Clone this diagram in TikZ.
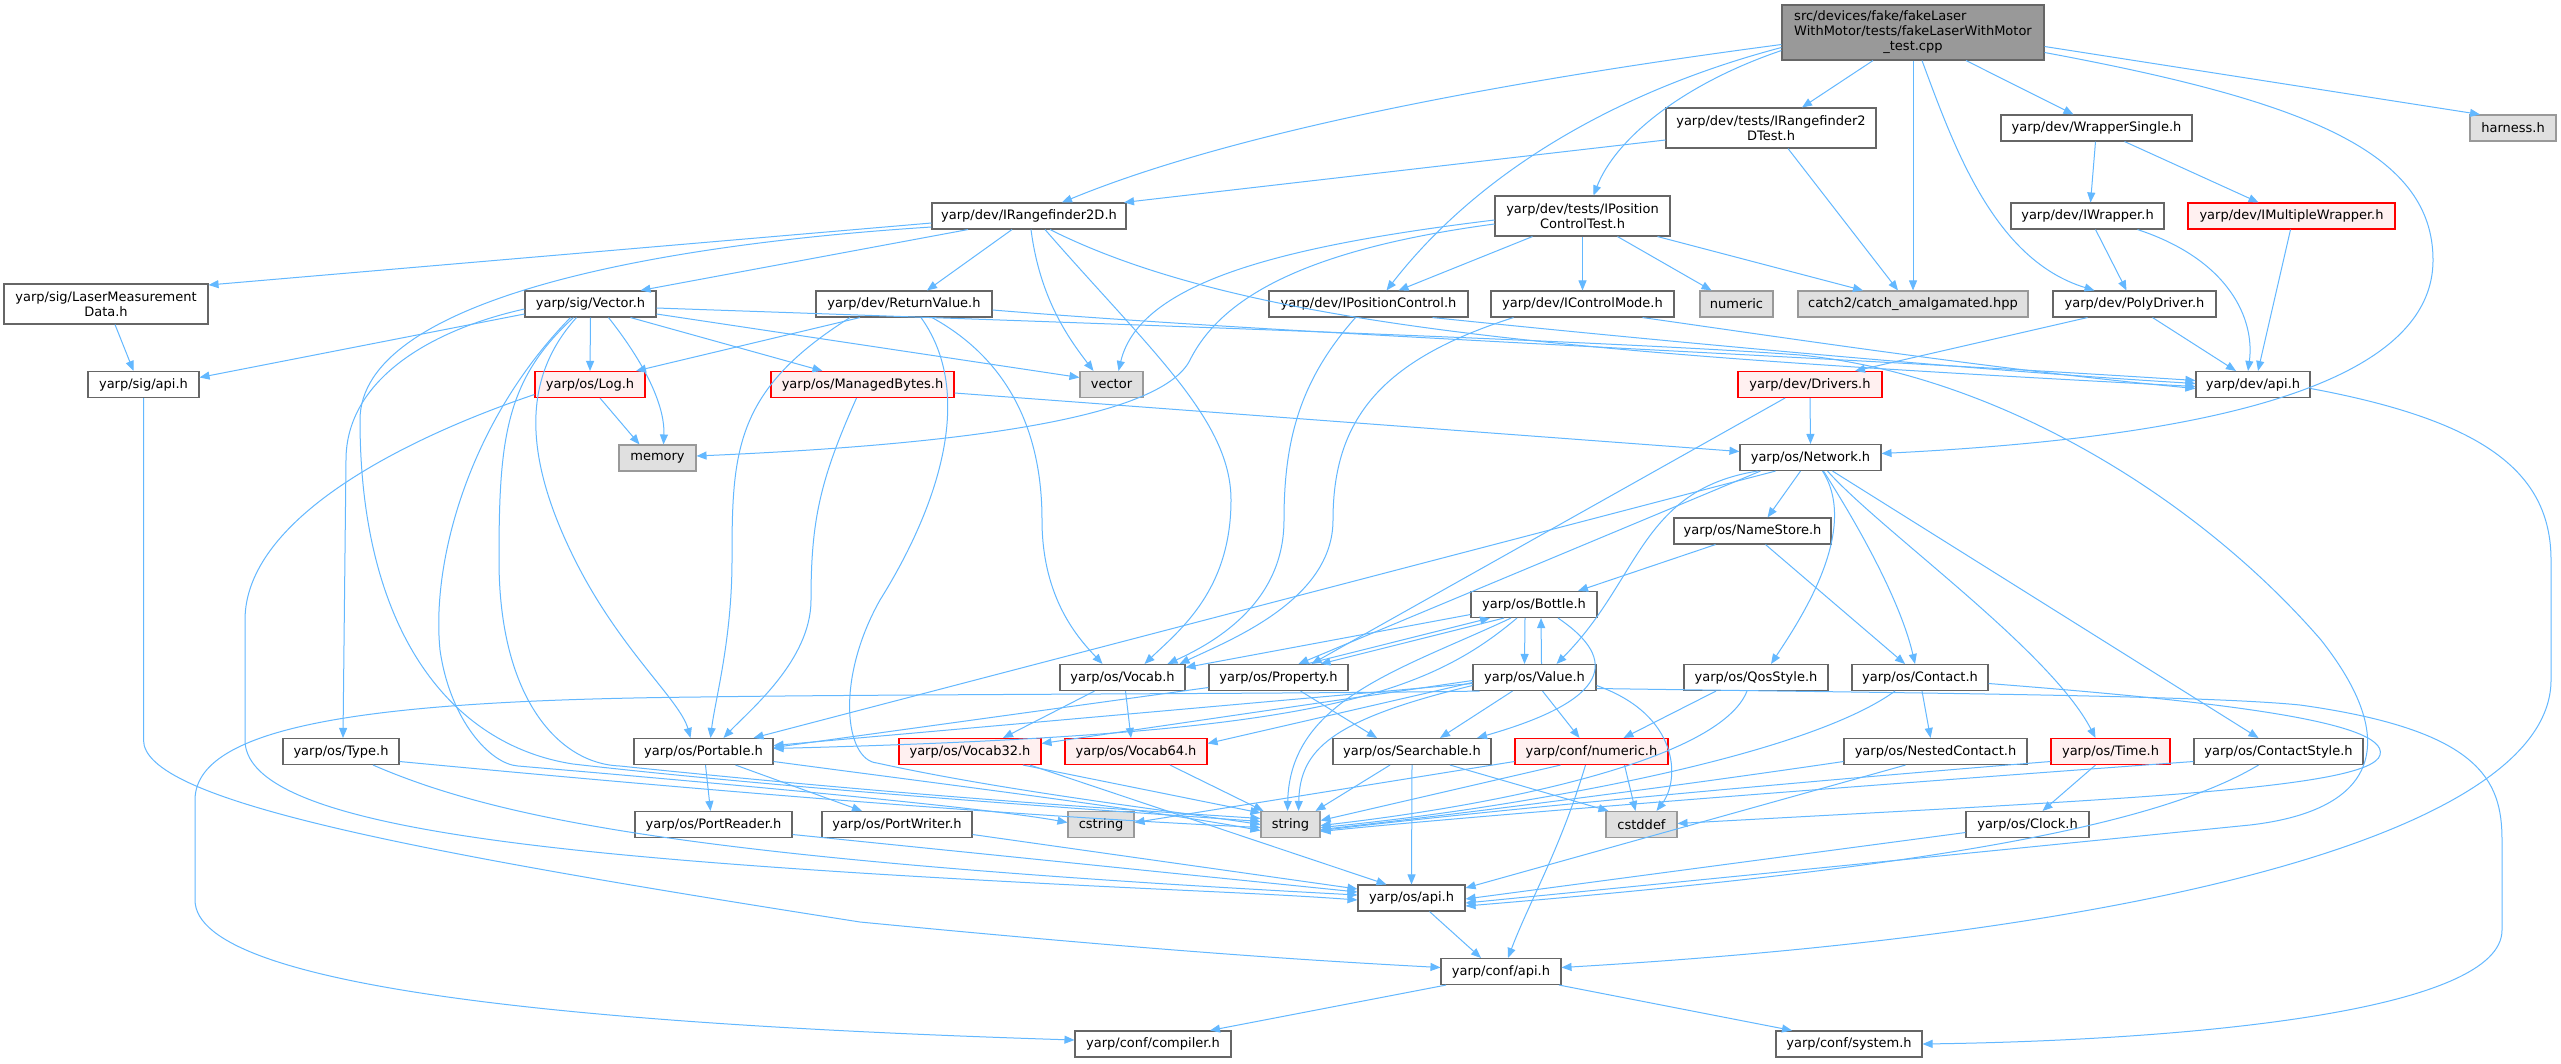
\documentclass[tikz,border=0pt]{standalone}
\usepackage{fontspec}
\setmainfont{DejaVu Sans}
\usetikzlibrary{arrows.meta}
\definecolor{edgecol}{HTML}{63B8FF}
\definecolor{boxborder}{HTML}{666666}
\definecolor{grayfill}{HTML}{E0E0E0}
\definecolor{grayborder}{HTML}{999999}
\definecolor{redborder}{HTML}{FF0000}
\definecolor{redfill}{HTML}{FFF0F0}
\definecolor{rootfill}{HTML}{999999}
\tikzset{
  box/.style={draw=boxborder, fill=white, line width=1.1pt, inner sep=0pt, align=center,
    font=\fontsize{13pt}{15pt}\selectfont},
  graybox/.style={box, draw=grayborder, fill=grayfill},
  redbox/.style={box, draw=redborder, fill=redfill},
  rootbox/.style={box, draw=boxborder, fill=rootfill},
  edge/.style={draw=edgecol, line width=1pt, -{Triangle[length=10pt,width=8pt]}},
}
\newcommand{\bx}[6]{\node[#1, minimum width=#4pt, minimum height=#5pt] (#2) at #3 {#6};}
\begin{document}
\begin{tikzpicture}[x=1pt,y=-1pt]
\useasboundingbox (0,0) rectangle (2561,1063);
\fill[white] (0,0) rectangle (2561,1063);
% ---------- nodes ----------
\bx{rootbox}{root}{(1913,32.5)}{262}{55}{\makebox[0pt][l]{src/devices/fake/fakeLaser}\phantom{WithMotor/tests/fakeLaserWithMotor}\\WithMotor/tests/fakeLaserWithMotor\\\_test.cpp}
\bx{box}{IRT}{(1771,128)}{210}{40}{yarp/dev/tests/IRangefinder2\\DTest.h}
\bx{box}{WS}{(2096.5,128)}{191}{26}{yarp/dev/WrapperSingle.h}
\bx{graybox}{harness}{(2513,128)}{86}{26}{harness.h}
\bx{box}{IR2D}{(1029,216)}{194}{26}{yarp/dev/IRangefinder2D.h}
\bx{box}{IPCT}{(1582.5,216)}{175}{40}{yarp/dev/tests/IPosition\\ControlTest.h}
\bx{box}{IW}{(2087.5,216)}{153}{26}{yarp/dev/IWrapper.h}
\bx{redbox}{IMW}{(2291.5,216)}{207}{26}{yarp/dev/IMultipleWrapper.h}
\bx{box}{LMD}{(106,304)}{204}{40}{yarp/sig/LaserMeasurement\\Data.h}
\bx{box}{Vec}{(590.5,304)}{131}{26}{yarp/sig/Vector.h}
\bx{box}{RV}{(904,304)}{176}{26}{yarp/dev/ReturnValue.h}
\bx{box}{IPC}{(1368.5,304)}{199}{26}{yarp/dev/IPositionControl.h}
\bx{box}{ICM}{(1582.5,304)}{183}{26}{yarp/dev/IControlMode.h}
\bx{graybox}{numeric}{(1736.5,304)}{73}{26}{numeric}
\bx{graybox}{catch2}{(1913,304)}{230}{26}{catch2/catch\_amalgamated.hpp}
\bx{box}{PD}{(2134.5,304)}{163}{26}{yarp/dev/PolyDriver.h}
\bx{box}{sigapi}{(143.5,384.5)}{111}{26}{yarp/sig/api.h}
\bx{redbox}{Log}{(590,384.5)}{110}{26}{yarp/os/Log.h}
\bx{redbox}{MB}{(862.5,384.5)}{183}{26}{yarp/os/ManagedBytes.h}
\bx{graybox}{vector}{(1111.5,384.5)}{63}{26}{vector}
\bx{redbox}{Drivers}{(1810,384.5)}{144}{26}{yarp/dev/Drivers.h}
\bx{box}{devapi}{(2253,384.5)}{114}{26}{yarp/dev/api.h}
\bx{graybox}{memory}{(657.5,458)}{77}{26}{memory}
\bx{box}{Network}{(1810.5,457.5)}{141}{26}{yarp/os/Network.h}
\bx{box}{NameStore}{(1752.5,531)}{157}{26}{yarp/os/NameStore.h}
\bx{box}{Bottle}{(1534,604.5)}{126}{26}{yarp/os/Bottle.h}
\bx{box}{Vocab}{(1122.5,677.5)}{125}{26}{yarp/os/Vocab.h}
\bx{box}{Property}{(1278.5,677.5)}{139}{26}{yarp/os/Property.h}
\bx{box}{Value}{(1534.5,677.5)}{123}{26}{yarp/os/Value.h}
\bx{box}{Qos}{(1756,677.5)}{144}{26}{yarp/os/QosStyle.h}
\bx{box}{Contact}{(1920,677.5)}{136}{26}{yarp/os/Contact.h}
\bx{box}{Type}{(341,751.5)}{116}{26}{yarp/os/Type.h}
\bx{box}{Portable}{(703.5,751.5)}{139}{26}{yarp/os/Portable.h}
\bx{redbox}{Vocab32}{(970,751.5)}{142}{26}{yarp/os/Vocab32.h}
\bx{redbox}{Vocab64}{(1136,751.5)}{142}{26}{yarp/os/Vocab64.h}
\bx{box}{Searchable}{(1412,751.5)}{158}{26}{yarp/os/Searchable.h}
\bx{redbox}{cnumeric}{(1591.5,751.5)}{153}{26}{yarp/conf/numeric.h}
\bx{box}{NC}{(1935.5,751.5)}{183}{26}{yarp/os/NestedContact.h}
\bx{redbox}{Time}{(2110.5,751.5)}{119}{26}{yarp/os/Time.h}
\bx{box}{CS}{(2278.5,751.5)}{169}{26}{yarp/os/ContactStyle.h}
\bx{box}{PR}{(713.5,824.5)}{157}{26}{yarp/os/PortReader.h}
\bx{box}{PW}{(897,824.5)}{150}{26}{yarp/os/PortWriter.h}
\bx{graybox}{cstring}{(1101,824.5)}{66}{26}{cstring}
\bx{graybox}{string}{(1290.5,824.5)}{59}{26}{string}
\bx{graybox}{cstddef}{(1641.5,824.5)}{71}{26}{cstddef}
\bx{box}{Clock}{(2027.5,824.5)}{123}{26}{yarp/os/Clock.h}
\bx{box}{osapi}{(1411.5,898)}{107}{26}{yarp/os/api.h}
\bx{box}{confapi}{(1501,971.5)}{120}{26}{yarp/conf/api.h}
\bx{box}{compiler}{(1153,1044)}{156}{26}{yarp/conf/compiler.h}
\bx{box}{system}{(1849,1044)}{146}{26}{yarp/conf/system.h}
% ---------- edges ----------
% root
\draw[edge] ([yshift=-12pt]root.west) .. controls (1550,75) and (1250,125) .. ([xshift=33pt]IR2D.north);
\draw[edge] ([xshift=-40pt]root.south) -- ([xshift=31pt]IRT.north);
\draw[edge] ([yshift=-18pt]root.west) .. controls (1680,85) and (1615,140) .. ([xshift=11pt]IPCT.north);
\draw[edge] ([yshift=-15pt]root.west) .. controls (1620,90) and (1480,170) .. ([xshift=18pt]IPC.north);
\draw[edge] (root.south) -- (catch2.north);
\draw[edge] ([xshift=9pt]root.south) .. controls (1955,150) and (1995,260) .. ([xshift=-40pt]PD.north);
\draw[edge] ([xshift=53pt]root.south) -- ([xshift=-23pt]WS.north);
\draw[edge] ([yshift=-14pt]root.east) -- ([xshift=-33pt]harness.north);
\draw[edge] ([yshift=-20pt]root.east) .. controls (2300,100) and (2433,150) .. (2433,260) .. controls (2433,400) and (2150,440) .. ([yshift=4pt]Network.east);
% IRangefinder2DTest
\draw[edge] ([yshift=-12pt]IRT.west) -- ([xshift=95pt]IR2D.north);
\draw[edge] ([xshift=17pt]IRT.south) -- ([xshift=-15pt]catch2.north);
% IPositionControlTest
\draw[edge] ([xshift=-50pt]IPCT.south) -- ([xshift=30pt]IPC.north);
\draw[edge] (IPCT.south) -- (ICM.north);
\draw[edge] ([xshift=35pt]IPCT.south) -- ([xshift=-25pt]numeric.north);
\draw[edge] ([xshift=75pt]IPCT.south) -- ([xshift=-50pt]catch2.north);
\draw[edge] ([yshift=-4pt]IPCT.west) .. controls (1290,245) and (1140,280) .. ([xshift=7pt]vector.north);
\draw[edge] ([yshift=-8pt]IPCT.west) .. controls (1300,250) and (1220,300) .. (1190,360) .. controls (1160,420) and (950,445) .. ([yshift=2pt]memory.east);
% IRangefinder2D
\draw[edge] ([yshift=-7pt]IR2D.west) -- ([yshift=19pt]LMD.east);
\draw[edge] ([yshift=-11pt]IR2D.west) .. controls (650,245) and (360,300) .. (360,420) .. controls (360,630) and (450,745) .. (573,764) .. controls (800,790) and (1100,810) .. ([yshift=3pt]string.west);
\draw[edge] ([xshift=-61pt]IR2D.south) -- ([xshift=50pt]Vec.north);
\draw[edge] ([xshift=-17pt]IR2D.south) -- ([xshift=23pt]RV.north);
\draw[edge] ([xshift=2pt]IR2D.south) .. controls (1040,300) and (1070,340) .. ([xshift=-18pt]vector.north);
\draw[edge] ([xshift=16pt]IR2D.south) .. controls (1150,350) and (1231,420) .. (1231,500) .. controls (1231,590) and (1180,630) .. ([xshift=22pt]Vocab.north);
\draw[edge] ([xshift=21pt]IR2D.south) .. controls (1250,330) and (1600,355) .. ([yshift=-2pt]devapi.west);
% sig/Vector.h
\draw[edge] ([yshift=-10pt]Vec.west) -- ([yshift=7pt]sigapi.east);
\draw[edge] (Vec.south) -- (Log.north);
\draw[edge] ([xshift=18pt]Vec.south) .. controls (650,370) and (665,410) .. ([xshift=6pt]memory.north);
\draw[edge] ([xshift=40pt]Vec.south) -- ([xshift=-40pt]MB.north);
\draw[edge] ([yshift=-5pt]Vec.west) .. controls (430,330) and (346,380) .. (346,460) -- ([xshift=2pt]Type.north);
\draw[edge] ([xshift=-14pt]Vec.south) .. controls (520,380) and (525,460) .. (575,560) .. controls (620,650) and (680,700) .. ([xshift=-13pt]Portable.north);
\draw[edge] ([xshift=-17pt]Vec.south) .. controls (505,380) and (499,440) .. (499,560) .. controls (499,700) and (560,764) .. (620,766) .. controls (900,795) and (1100,808) .. ([yshift=6pt]string.west);
\draw[edge] ([xshift=-20pt]Vec.south) .. controls (470,420) and (431,560) .. (440,650) .. controls (450,720) and (490,764) .. (518,766) .. controls (800,790) and (1000,810) .. ([yshift=2pt]cstring.west);
\draw[edge] ([yshift=-4pt]Vec.east) .. controls (1000,320) and (1600,340) .. (1800,355) .. controls (2000,375) and (2200,500) .. (2321,640) .. controls (2400,740) and (2380,810) .. (2250,825) .. controls (2000,850) and (1700,880) .. ([yshift=-5pt]osapi.east);
\draw[edge] ([yshift=-10pt]Vec.east) -- ([yshift=7pt]vector.west);
% ReturnValue
\draw[edge] ([yshift=-6pt]RV.east) .. controls (1300,335) and (1800,355) .. ([yshift=4pt]devapi.west);
\draw[edge] ([xshift=-44pt]RV.south) -- ([xshift=46pt]Log.north);
\draw[edge] ([xshift=28pt]RV.south) .. controls (1000,355) and (1042,420) .. (1042,520) .. controls (1042,600) and (1080,640) .. ([xshift=-20pt]Vocab.north);
\draw[edge] ([xshift=17pt]RV.south) .. controls (980,400) and (930,520) .. (880,600) .. controls (835,680) and (845,760) .. (877,763) .. controls (1000,790) and (1150,808) .. (string.west);
\draw[edge] ([xshift=-54pt]RV.south) .. controls (735,390) and (732,450) .. (732,560) .. controls (732,640) and (715,700) .. ([xshift=7pt]Portable.north);
% ManagedBytes
\draw[edge] ([xshift=-6pt]MB.south) .. controls (820,480) and (811,520) .. (811,600) .. controls (811,660) and (750,710) .. ([xshift=20pt]Portable.north);
\draw[edge] ([yshift=-8.5pt]MB.east) -- ([yshift=6pt]Network.west);
% Log
\draw[edge] ([xshift=10pt]Log.south) -- ([xshift=-18pt]memory.north);
\draw[edge] ([yshift=-10pt]Log.west) .. controls (400,440) and (245,520) .. (245,620) -- (245,740) .. controls (245,820) and (500,850) .. (860,873) .. controls (1100,888) and (1250,892) .. ([yshift=-2pt]osapi.west);
% sig/api.h, LaserMeasurementData
\draw[edge] (sigapi.south) -- (143.5,740) .. controls (143.5,800) and (400,850) .. (860,922) .. controls (1150,950) and (1300,960) .. ([yshift=4pt]confapi.west);
\draw[edge] ([xshift=9pt]LMD.south) -- ([xshift=-10pt]sigapi.north);
% Type
\draw[edge] ([xshift=32pt]Type.south) .. controls (500,820) and (700,860) .. ([yshift=3pt]osapi.west);
\draw[edge] ([yshift=-10pt]Type.east) .. controls (700,790) and (1000,815) .. ([yshift=-3pt]string.west);
% Portable
\draw[edge] ([xshift=2pt]Portable.south) -- ([xshift=-3pt]PR.north);
\draw[edge] ([xshift=32pt]Portable.south) -- ([xshift=-35pt]PW.north);
\draw[edge] ([yshift=-10pt]Portable.east) .. controls (950,785) and (1150,810) .. ([yshift=-6pt]string.west);
\draw[edge] ([yshift=-10pt]PR.east) -- ([yshift=6pt]osapi.west);
\draw[edge] ([yshift=-10pt]PW.east) -- ([yshift=9pt]osapi.west);
% Vocab
\draw[edge] ([xshift=-28pt]Vocab.south) -- ([xshift=33pt]Vocab32.north);
\draw[edge] ([xshift=3pt]Vocab.south) -- ([xshift=-5pt]Vocab64.north);
% Bottle
\draw[edge] ([yshift=-10pt]Bottle.west) -- ([yshift=10pt]Vocab.east);
\draw[edge] ([xshift=-30pt]Bottle.south) -- ([xshift=42pt]Property.north);
\draw[edge] ([xshift=28pt]Property.north) -- ([xshift=-44pt]Bottle.south);
\draw[edge] ([xshift=-9pt]Bottle.south) -- ([xshift=-10pt]Value.north);
\draw[edge] ([xshift=7pt]Value.north) -- ([xshift=7pt]Bottle.south);
\draw[edge] ([xshift=24pt]Bottle.south) .. controls (1620,660) and (1610,700) .. ([xshift=65pt]Searchable.north);
\draw[edge] ([xshift=-23pt]Bottle.south) .. controls (1400,670) and (1290,700) .. ([xshift=-3pt]string.north);
\draw[edge] ([xshift=-17pt]Bottle.south) .. controls (1420,700) and (1300,735) .. ([yshift=3pt]Portable.east);
% Property
\draw[edge] ([xshift=22pt]Property.south) -- ([xshift=-35pt]Searchable.north);
\draw[edge] ([yshift=-10pt]Property.west) -- ([yshift=4pt]Portable.east);
% Value
\draw[edge] ([xshift=-22pt]Value.south) -- ([xshift=28pt]Searchable.north);
\draw[edge] ([xshift=8pt]Value.south) -- ([xshift=-12pt]cnumeric.north);
\draw[edge] ([yshift=-8pt]Value.east) .. controls (1680,715) and (1680,780) .. ([xshift=15pt]cstddef.north);
\draw[edge] ([yshift=-8pt]Value.west) .. controls (1330,720) and (1300,750) .. ([xshift=8pt]string.north);
\draw[edge] ([yshift=-5pt]Value.west) -- ([yshift=8pt]Vocab64.east);
\draw[edge] ([yshift=-3pt]Value.west) -- ([yshift=8pt]Vocab32.east);
\draw[edge] ([yshift=-6pt]Value.west) -- ([yshift=6pt]Portable.east);
\draw[edge] ([xshift=-55pt]Value.south) .. controls (1300,694) and (900,694) .. (700,697) .. controls (400,700) and (195,720) .. (195,800) -- (195,900) .. controls (195,990) and (600,1025) .. ([yshift=4pt]compiler.west);
\draw[edge] ([yshift=-11pt]Value.east) .. controls (1900,693) and (2200,695) .. (2300,705) .. controls (2480,730) and (2502,780) .. (2502,840) -- (2502,930) .. controls (2502,1010) and (2200,1040) .. (system.east);
% QosStyle
\draw[edge] ([xshift=-40pt]Qos.south) -- ([xshift=32pt]cnumeric.north);
\draw[edge] ([xshift=-9pt]Qos.south) .. controls (1720,760) and (1500,805) .. ([yshift=-1pt]string.east);
% Contact
\draw[edge] ([xshift=2pt]Contact.south) -- ([xshift=-5pt]NC.north);
\draw[edge] ([xshift=-25pt]Contact.south) .. controls (1800,760) and (1500,810) .. ([yshift=-3pt]string.east);
\draw[edge] ([yshift=-6pt]Contact.east) .. controls (2200,700) and (2390,720) .. (2380,755) .. controls (2370,790) and (2100,800) .. ([yshift=1pt]cstddef.east);
% NestedContact, Time, ContactStyle, Clock
\draw[edge] ([yshift=-10pt]NC.west) .. controls (1650,790) and (1450,815) .. ([yshift=-5pt]string.east);
\draw[edge] ([xshift=-30pt]NC.south) -- ([yshift=10pt]osapi.east);
\draw[edge] ([xshift=-15pt]Time.south) -- ([xshift=15pt]Clock.north);
\draw[edge] ([yshift=-10pt]Time.west) .. controls (1700,790) and (1450,815) .. ([yshift=-6pt]string.east);
\draw[edge] ([xshift=-20pt]CS.south) .. controls (2150,830) and (1900,870) .. ([yshift=-8pt]osapi.east);
\draw[edge] ([yshift=-10pt]CS.west) .. controls (1800,790) and (1450,818) .. ([yshift=-7pt]string.east);
\draw[edge] ([yshift=-8pt]Clock.west) -- ([yshift=-1pt]osapi.east);
% conf/numeric.h
\draw[edge] ([xshift=33pt]cnumeric.south) -- ([xshift=-6pt]cstddef.north);
\draw[edge] ([xshift=-31pt]cnumeric.south) -- ([yshift=4pt]string.east);
\draw[edge] ([yshift=-10pt]cnumeric.west) -- ([yshift=2pt]cstring.east);
\draw[edge] ([xshift=-6pt]cnumeric.south) .. controls (1560,850) and (1530,900) .. ([xshift=7pt]confapi.north);
% Searchable
\draw[edge] ([xshift=-22pt]Searchable.south) -- ([xshift=25pt]string.north);
\draw[edge] (Searchable.south) -- (osapi.north);
\draw[edge] ([xshift=38pt]Searchable.south) -- ([xshift=3pt]cstddef.north west);
% Vocab32 / Vocab64
\draw[edge] ([xshift=53pt]Vocab32.south) -- ([yshift=-2pt]string.north west);
\draw[edge] ([xshift=60pt]Vocab32.south) -- ([xshift=-25pt]osapi.north);
\draw[edge] ([xshift=34pt]Vocab64.south) -- ([xshift=3pt]string.north west);
% api chain
\draw[edge] ([xshift=18pt]osapi.south) -- ([xshift=-20pt]confapi.north);
\draw[edge] ([xshift=-55pt]confapi.south) -- ([xshift=57pt]compiler.north);
\draw[edge] ([xshift=58pt]confapi.south) -- ([xshift=-57pt]system.north);
\draw[edge] ([yshift=-4pt]devapi.east) .. controls (2480,420) and (2551,470) .. (2551,560) -- (2551,680) .. controls (2551,820) and (2200,930) .. ([yshift=4pt]confapi.east);
% Drivers, Network, NameStore
\draw[edge] (Drivers.south) -- (Network.north);
\draw[edge] ([xshift=-25pt]Drivers.south) -- ([xshift=33pt]Property.north);
\draw[edge] ([xshift=-10pt]Network.south) -- ([xshift=15pt]NameStore.north);
\draw[edge] ([xshift=12pt]Network.south) .. controls (1860,530) and (1800,620) .. ([xshift=15pt]Qos.north);
\draw[edge] ([xshift=13pt]Network.south) .. controls (1880,560) and (1905,620) .. ([xshift=-5pt]Contact.north);
\draw[edge] ([xshift=17pt]Network.south) .. controls (1880,530) and (2050,650) .. ([xshift=-15pt]Time.north);
\draw[edge] ([xshift=22pt]Network.south) -- ([xshift=-20pt]CS.north);
\draw[edge] ([xshift=-53pt]Network.south) .. controls (1640,490) and (1640,580) .. ([xshift=22pt]Value.north);
\draw[edge] ([xshift=-50pt]Network.south) -- ([xshift=20pt]Property.north);
\draw[edge] ([xshift=-35pt]Network.south) -- ([xshift=50pt]Portable.north);
\draw[edge] ([xshift=-37pt]NameStore.south) -- ([xshift=44pt]Bottle.north);
\draw[edge] ([xshift=13pt]NameStore.south) -- ([xshift=-15pt]Contact.north);
% wrappers, PolyDriver
\draw[edge] ([xshift=8pt]IW.south) -- ([xshift=-8pt]PD.north);
\draw[edge] ([xshift=50pt]IW.south) .. controls (2230,260) and (2255,320) .. ([xshift=-5pt]devapi.north);
\draw[edge] ([xshift=-1pt]IMW.south) -- ([xshift=5pt]devapi.north);
\draw[edge] ([xshift=-1pt]WS.south) -- ([xshift=3pt]IW.north);
\draw[edge] ([xshift=28pt]WS.south) -- ([xshift=-33pt]IMW.north);
\draw[edge] ([xshift=18pt]PD.south) -- ([xshift=-17pt]devapi.north);
\draw[edge] ([xshift=-47pt]PD.south) -- ([xshift=45pt]Drivers.north);
% IPositionControl, IControlMode
\draw[edge] ([xshift=64pt]IPC.south) .. controls (1700,345) and (2000,372) .. ([yshift=1pt]devapi.west);
\draw[edge] ([xshift=-13pt]IPC.south) .. controls (1300,380) and (1284,440) .. (1284,520) .. controls (1284,600) and (1220,640) .. ([xshift=45pt]Vocab.north);
\draw[edge] ([xshift=60pt]ICM.south) .. controls (1800,340) and (2000,370) .. ([yshift=-4pt]devapi.west);
\draw[edge] ([xshift=-69pt]ICM.south) .. controls (1380,360) and (1333,420) .. (1333,520) .. controls (1333,600) and (1230,640) .. ([xshift=57pt]Vocab.north);
\end{tikzpicture}
\end{document}
